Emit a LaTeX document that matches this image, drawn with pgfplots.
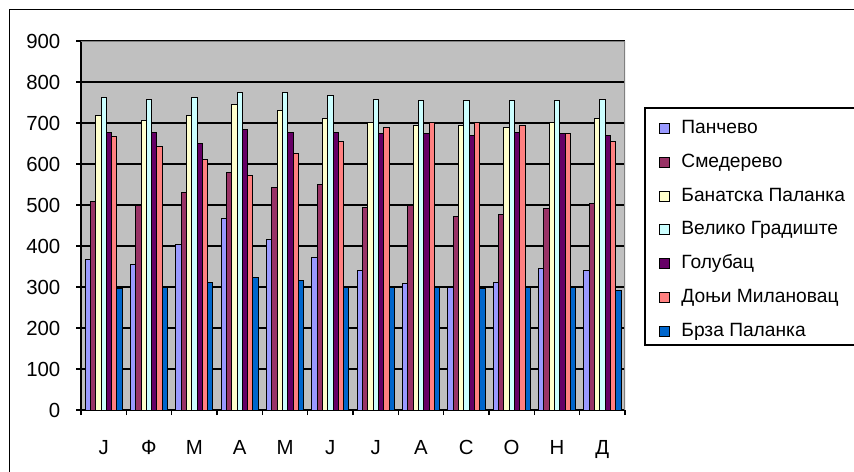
\documentclass[border=0pt]{standalone}
\usepackage{fontspec}
\setmainfont{Liberation Sans}
\usepackage{pgfplots}
\usepackage{pgfplotstable}
\pgfplotsset{compat=1.18}

\definecolor{c1}{HTML}{9999FF}
\definecolor{c2}{HTML}{993366}
\definecolor{c3}{HTML}{FFFFCC}
\definecolor{c4}{HTML}{CCFFFF}
\definecolor{c5}{HTML}{660066}
\definecolor{c6}{HTML}{FF8080}
\definecolor{c7}{HTML}{0066CC}
\definecolor{plotbg}{HTML}{C0C0C0}
\definecolor{edge}{HTML}{808080}

% months 0..11
\pgfplotstableread{
m  P    S    B    V    G    D    R
0  368  508  718  762  678  666  297
1  356  500  706  758  678  642  300
2  403  531  718  762  651  611  312
3  468  579  745  774  683  571  324
4  416  543  730  774  678  626  316
5  372  551  710  766  678  654  300
6  341  495  702  758  674  690  300
7  308  500  694  754  674  702  300
8  300  472  694  754  670  702  296
9  312  476  690  754  678  694  300
10 344  491  702  754  674  674  300
11 340  504  710  758  670  654  292
}\data

\begin{document}
\begin{tikzpicture}[x=1pt,y=1pt]
\useasboundingbox (0,0) rectangle (427,235.5);
\draw[line width=0.7pt] (4.75,-10) -- (4.75,230.75) -- (440,230.75);
\draw[line width=0.6pt, fill=white] (322.5,63) rectangle (440,181.5);
\begin{axis}[
  at={(40.5pt,30.5pt)}, anchor=south west,
  scale only axis, width=272pt, height=184.5pt,
  ybar=0pt, bar width=0.1176,
  xmin=-0.5, xmax=11.5, ymin=0, ymax=900,
  axis x line*=bottom, axis y line*=left,
  axis line style={black, line width=0.6pt},
  axis background/.style={fill=plotbg},
  ymajorgrids, y grid style={black, line width=0.6pt},
  tick align=outside, major tick length=2.5pt,
  tick style={black, line width=0.6pt},
  xtick={-0.5,0.5,...,11.5}, xticklabels={},
  extra x ticks={0,...,11},
  extra x tick labels={Ј,Ф,М,А,М,Ј,Ј,А,С,О,Н,Д},
  extra x tick style={major tick length=0pt, grid=none,
    xticklabel style={anchor=north, inner sep=0pt, text height=7.3pt, yshift=-14.85pt}},
  ytick={0,100,...,900},
  yticklabel style={anchor=east, inner sep=0pt, xshift=-7.65pt},
  ticklabel style={font=\fontsize{10.2}{12}\selectfont},
  /pgf/number format/assume math mode=true,
  every axis plot/.append style={draw=black, line width=0.5pt},
  legend style={at={(1.0612,0.7875)}, anchor=north west, draw=none, fill=none,
    inner sep=0pt, row sep=7.85pt, column sep=5.55pt,
    nodes={inner sep=0pt, text height=7pt, text depth=2pt},
    font=\fontsize{9.6}{11}\selectfont},
  legend cell align=left,
  legend image code/.code={\draw[#1, draw=black, line width=0.5pt] (0pt,-2.5pt) rectangle (5.3pt,2.5pt);},
]
\addplot[fill=c1] table[x=m, y=P] {\data};
\addplot[fill=c2] table[x=m, y=S] {\data};
\addplot[fill=c3] table[x=m, y=B] {\data};
\addplot[fill=c4] table[x=m, y=V] {\data};
\addplot[fill=c5] table[x=m, y=G] {\data};
\addplot[fill=c6] table[x=m, y=D] {\data};
\addplot[fill=c7] table[x=m, y=R] {\data};
\legend{Панчево, Смедерево, Банатска Паланка, Велико Градиште, Голубац, Доњи Милановац, Брза Паланка}
\draw[edge, line width=0.6pt] (rel axis cs:0,1) -- (rel axis cs:1,1) -- (rel axis cs:1,0);
\end{axis}
\end{tikzpicture}
\end{document}
